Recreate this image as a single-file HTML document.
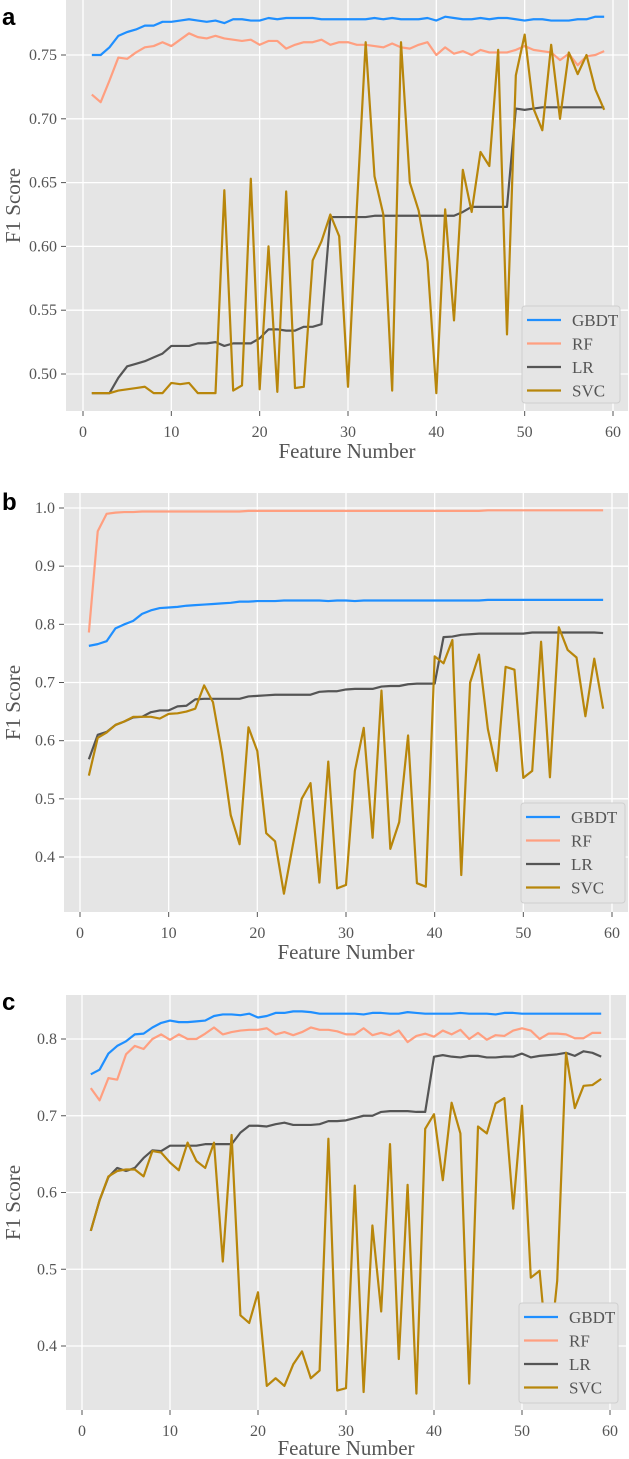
<!DOCTYPE html>
<html><head><meta charset="utf-8">
<style>
html,body{margin:0;padding:0;background:#fff;}
svg{display:block;}
text{font-family:"Liberation Serif",serif;fill:#555;}
.plabel{font-family:"Liberation Sans",sans-serif;font-weight:bold;fill:#000;font-size:24px;}
</style></head>
<body>
<svg id="fig" width="629" height="1459" viewBox="0 0 629 1459" xmlns="http://www.w3.org/2000/svg"></svg>
<script>
// ---------- data ----------
const featureNumbers = Array.from({length:59},(_,i)=>i+1);
const seriesNames = ["GBDT","RF","LR","SVC"];
const xTicks = [0,10,20,30,40,50,60];

// panel a
const aGBDT = [.750,.750,.756,.765,.768,.770,.773,.773,.776,.776,.777,.778,.777,.776,.777,.775,.778,.778,.777,.777,.779,.778,.779,.779,.779,.779,.778,.778,.778,.778,.778,.778,.779,.778,.779,.778,.778,.778,.779,.777,.780,.779,.778,.778,.779,.778,.779,.779,.778,.777,.778,.778,.777,.777,.777,.778,.778,.780,.780];
const aRF = [.719,.713,.730,.748,.747,.752,.756,.757,.760,.757,.762,.767,.764,.763,.765,.763,.762,.761,.762,.758,.761,.761,.755,.758,.760,.760,.762,.758,.760,.760,.758,.758,.757,.756,.759,.756,.755,.758,.760,.750,.756,.751,.753,.750,.754,.752,.752,.752,.754,.757,.754,.753,.752,.746,.751,.742,.749,.750,.753];
const aLR = [.485,.485,.485,.497,.506,.508,.510,.513,.516,.522,.522,.522,.524,.524,.525,.522,.524,.524,.524,.528,.535,.535,.534,.534,.537,.537,.539,.623,.623,.623,.623,.623,.624,.624,.624,.624,.624,.624,.624,.624,.624,.624,.627,.631,.631,.631,.631,.631,.708,.707,.708,.709,.709,.709,.709,.709,.709,.709,.709];
const aSVC = [.485,.485,.485,.487,.488,.489,.490,.485,.485,.493,.492,.493,.485,.485,.485,.644,.487,.491,.653,.488,.600,.486,.643,.489,.490,.589,.604,.625,.608,.490,.630,.760,.655,.625,.487,.760,.650,.628,.588,.485,.629,.542,.660,.627,.674,.663,.754,.531,.734,.766,.708,.691,.758,.700,.752,.735,.750,.723,.707];
const aYTicks = [0.50,0.55,0.60,0.65,0.70,0.75];

// panel b
const bGBDT = [.763,.766,.771,.793,.800,.806,.818,.824,.828,.829,.830,.832,.833,.834,.835,.836,.837,.839,.839,.840,.840,.840,.841,.841,.841,.841,.841,.840,.841,.841,.840,.841,.841,.841,.841,.841,.841,.841,.841,.841,.841,.841,.841,.841,.841,.842,.842,.842,.842,.842,.842,.842,.842,.842,.842,.842,.842,.842,.842];
const bRF = [.786,.960,.990,.992,.993,.993,.994,.994,.994,.994,.994,.994,.994,.994,.994,.994,.994,.994,.995,.995,.995,.995,.995,.995,.995,.995,.995,.995,.995,.995,.995,.995,.995,.995,.995,.995,.995,.995,.995,.995,.995,.995,.995,.995,.995,.996,.996,.996,.996,.996,.996,.996,.996,.996,.996,.996,.996,.996,.996];
const bLR = [.568,.610,.615,.627,.633,.640,.641,.649,.652,.652,.659,.660,.671,.672,.672,.672,.672,.672,.676,.677,.678,.679,.679,.679,.679,.679,.684,.685,.685,.688,.689,.689,.689,.693,.694,.694,.697,.698,.698,.698,.778,.779,.782,.783,.784,.784,.784,.784,.784,.784,.786,.786,.786,.786,.786,.786,.786,.786,.785];
const bSVC = [.540,.605,.614,.627,.633,.641,.641,.641,.638,.646,.647,.650,.655,.695,.666,.580,.472,.422,.623,.582,.441,.427,.337,.420,.500,.527,.356,.564,.346,.352,.548,.622,.433,.686,.414,.460,.609,.355,.349,.745,.733,.773,.369,.700,.748,.620,.548,.727,.722,.536,.548,.770,.537,.795,.756,.743,.642,.741,.655];
const bYTicks = [0.4,0.5,0.6,0.7,0.8,0.9,1.0];

// panel c
const cGBDT = [.754,.760,.781,.791,.797,.806,.807,.815,.821,.824,.822,.822,.823,.824,.830,.832,.832,.831,.833,.828,.830,.834,.834,.836,.836,.835,.833,.833,.833,.833,.833,.832,.834,.834,.833,.833,.835,.834,.833,.833,.833,.833,.834,.833,.833,.833,.832,.834,.834,.833,.833,.833,.833,.833,.833,.833,.833,.833,.833];
const cRF = [.736,.720,.749,.747,.780,.791,.787,.800,.806,.799,.806,.800,.800,.807,.815,.806,.809,.811,.812,.812,.814,.806,.809,.805,.809,.815,.812,.812,.810,.806,.806,.814,.805,.808,.805,.811,.796,.804,.807,.803,.811,.806,.812,.800,.808,.799,.805,.804,.811,.814,.811,.800,.807,.807,.806,.801,.801,.808,.808];
const cLR = [.550,.590,.620,.632,.628,.632,.645,.655,.654,.661,.661,.661,.661,.663,.663,.663,.663,.678,.687,.687,.686,.689,.691,.688,.688,.688,.689,.693,.693,.694,.697,.700,.700,.705,.706,.706,.706,.705,.705,.777,.779,.777,.776,.778,.778,.776,.776,.777,.777,.781,.776,.778,.779,.780,.782,.778,.784,.782,.777];
const cSVC = [.550,.590,.621,.628,.630,.630,.621,.654,.652,.639,.629,.665,.641,.632,.665,.510,.675,.440,.430,.470,.348,.358,.348,.376,.393,.358,.368,.670,.342,.345,.609,.340,.557,.445,.663,.383,.610,.338,.683,.702,.616,.717,.677,.351,.686,.677,.716,.723,.579,.713,.489,.498,.373,.485,.782,.710,.739,.740,.748];
const cYTicks = [0.4,0.5,0.6,0.7,0.8];

// ---------- drawing ----------
const NS = "http://www.w3.org/2000/svg";
const fig = document.getElementById('fig');
const colors = {GBDT:"#1f8fff", RF:"#ff9f80", LR:"#555555", SVC:"#b8860b"};

function mk(tag, attrs, parent){
  const e = document.createElementNS(NS, tag);
  for (const k in attrs) e.setAttribute(k, attrs[k]);
  (parent||fig).appendChild(e);
  return e;
}

function panel(cfg){
  const g = mk('g', {});
  
  
  const L=cfg.left, R=cfg.right, T=cfg.top, B=cfg.bottom;
  const xs = v => cfg.x0 + (v - 0) * (cfg.x60 - cfg.x0) / 60;
  const ys = v => cfg.yRefPx + (cfg.yRef - v) * cfg.pxPerUnit;

  const bg = mk('rect', {x:L, y:T, width:R-L, height:B-T, fill:"#e5e5e5"}, g);
  
  

  // grid + x ticks
  cfg.xTicks.forEach(t => {
    const x = xs(t);
    const gl = mk('line', {x1:x, x2:x, y1:T, y2:B, stroke:"#fff", "stroke-width":1.3}, g);
    
    
    mk('line', {x1:x, x2:x, y1:B, y2:B+5, stroke:"#555", "stroke-width":1}, g);
    const tx = mk('text', {x:x, y:B+26, "text-anchor":"middle", "font-size":16}, g);
    tx.textContent = t;
    
    
  });
  cfg.yTicks.forEach(t => {
    const y = ys(t);
    const gl = mk('line', {x1:L, x2:R, y1:y, y2:y, stroke:"#fff", "stroke-width":1.3}, g);
    
    
    mk('line', {x1:L-5, x2:L, y1:y, y2:y, stroke:"#555", "stroke-width":1}, g);
    const tx = mk('text', {x:L-9, y:y+5, "text-anchor":"end", "font-size":16}, g);
    tx.textContent = t.toFixed(cfg.dec);
    
    
  });

  // series
  const clipId = 'clip-' + cfg.id;
  const cp = mk('clipPath', {id:clipId}, g);
  mk('rect', {x:L, y:T, width:R-L, height:B-T}, cp);
  cfg.series.forEach(s => {
    const d = s.values.map((v,i)=>(i?'L':'M') + xs(featureNumbers[i]).toFixed(2) + ',' + ys(v).toFixed(2)).join(' ');
    const p = mk('path', {d:d, fill:"none", stroke:colors[s.name], "stroke-width":2.2, "stroke-linejoin":"round", "clip-path":"url(#"+clipId+")"}, g);
    
    
  });

  // axis labels
  const xl = mk('text', {x:(L+R)/2, y:cfg.xLabelY, "text-anchor":"middle", "font-size":21}, g);
  xl.textContent = "Feature Number";
  
  
  const yc = (T+B)/2;
  const yl = mk('text', {x:0, y:0, "text-anchor":"middle", "font-size":21, transform:"translate(20,"+yc+") rotate(-90)"}, g);
  yl.textContent = "F1 Score";
  
  

  // legend
  const lg = mk('g', {}, g);
  
  
  mk('rect', {x:cfg.leg.x, y:cfg.leg.y, width:cfg.leg.w, height:cfg.leg.h, rx:3, fill:"#e5e5e5", stroke:"#cfcfcf", "stroke-width":1}, lg);
  seriesNames.forEach((n,i) => {
    const y = cfg.leg.y + 14 + i*23.5;
    const e = mk('g', {}, lg);
    
    
    mk('line', {x1:cfg.leg.x+5, x2:cfg.leg.x+39, y1:y, y2:y, stroke:colors[n], "stroke-width":2.2}, e);
    const t = mk('text', {x:cfg.leg.x+50, y:y+6, "font-size":17}, e);
    t.textContent = n;
  });

  const pl = mk('text', {x:cfg.labelX, y:cfg.labelY, class:"plabel"}, g);
  pl.textContent = cfg.id;
  
  
}

panel({id:'a', left:66, right:628, top:0, bottom:411, x0:83, x60:613,
  yRef:0.75, yRefPx:55, pxPerUnit:(374-55)/0.25, yTicks:aYTicks, xTicks:xTicks, dec:2,
  xLabelY:458, labelX:2, labelY:25,
  leg:{x:522,y:306,w:98,h:97},
  series:[{name:"GBDT",values:aGBDT},{name:"RF",values:aRF},{name:"LR",values:aLR},{name:"SVC",values:aSVC}]});

panel({id:'b', left:64, right:628, top:493, bottom:912, x0:80, x60:612,
  yRef:1.0, yRefPx:508, pxPerUnit:(857-508)/0.6, yTicks:bYTicks, xTicks:xTicks, dec:1,
  xLabelY:959, labelX:2, labelY:510,
  leg:{x:521,y:803,w:104,h:100},
  series:[{name:"GBDT",values:bGBDT},{name:"RF",values:bRF},{name:"LR",values:bLR},{name:"SVC",values:bSVC}]});

panel({id:'c', left:66, right:626, top:995, bottom:1410, x0:82, x60:610,
  yRef:0.8, yRefPx:1039, pxPerUnit:(1346-1039)/0.4, yTicks:cYTicks, xTicks:xTicks, dec:1,
  xLabelY:1455, labelX:2, labelY:1010,
  leg:{x:519,y:1303,w:99,h:100},
  series:[{name:"GBDT",values:cGBDT},{name:"RF",values:cRF},{name:"LR",values:cLR},{name:"SVC",values:cSVC}]});
</script>
</body></html>
